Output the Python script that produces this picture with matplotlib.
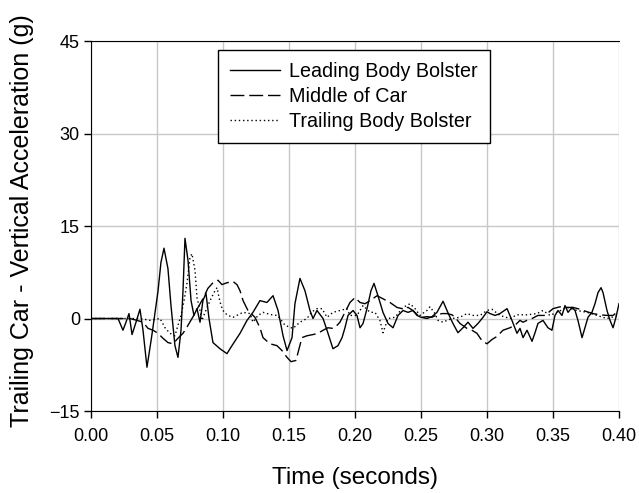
import matplotlib
matplotlib.use("Agg")
import matplotlib.pyplot as plt

plt.rcParams['font.family'] = ['Liberation Sans', 'DejaVu Sans']

# Leading body bolster (solid)
lead_t = [0.000, 0.0205, 0.0242, 0.0265, 0.0288, 0.0311, 0.0341, 0.0371, 0.0394, 0.0424,
          0.0455, 0.0477, 0.0508, 0.0530, 0.0553, 0.0583, 0.0606, 0.0636, 0.0659, 0.0682,
          0.0697, 0.0712, 0.0735, 0.0758, 0.0780, 0.0803, 0.0826, 0.0848, 0.0871, 0.0894,
          0.0924, 0.0977, 0.1030, 0.1068, 0.1129, 0.1182, 0.1227, 0.1280, 0.1333, 0.1379,
          0.1417, 0.1455, 0.1485, 0.1523, 0.1545, 0.1583, 0.1621, 0.1659, 0.1682, 0.1712,
          0.1758, 0.1788, 0.1833, 0.1871, 0.1902, 0.1924, 0.1947, 0.1985, 0.2015, 0.2038,
          0.2061, 0.2091, 0.2121, 0.2144, 0.2174, 0.2212, 0.2250, 0.2288, 0.2326, 0.2364,
          0.2402, 0.2439, 0.2470, 0.2500, 0.2545, 0.2583, 0.2621, 0.2667, 0.2697, 0.2720,
          0.2742, 0.2780, 0.2818, 0.2856, 0.2894, 0.2932, 0.2970, 0.3000, 0.3023, 0.3061,
          0.3098, 0.3152, 0.3189, 0.3227, 0.3250, 0.3273, 0.3303, 0.3341, 0.3364, 0.3386,
          0.3424, 0.3462, 0.3492, 0.3515, 0.3538, 0.3568, 0.3591, 0.3614, 0.3644, 0.3667,
          0.3689, 0.3720, 0.3742, 0.3765, 0.3795, 0.3818, 0.3841, 0.3864, 0.3879, 0.3909,
          0.3932, 0.3955, 0.3977, 0.4000]
lead_g = [0.0, 0.0, -1.9, -0.6, 0.8, -2.6, -0.6, 1.5, -1.9, -7.9,
          -3.6, -0.3, 4.5, 9.1, 11.4, 8.1, 2.1, -4.4, -6.3, -1.9,
          4.5, 13.0, 9.4, 2.9, 0.5, 1.6, -0.6, 2.9, 4.1, 0.0,
          -3.9, -4.9, -5.7, -4.4, -2.4, -0.3, 1.0, 2.9, 2.6, 3.7,
          1.3, -2.8, -5.2, -3.1, 2.4, 6.5, 4.5, 1.3, 0.0, 1.3,
          0.0, -1.9, -4.9, -4.4, -3.1, -1.5, 0.5, 1.3, 0.5, -1.5,
          -0.8, 1.6, 4.5, 5.7, 3.7, 1.0, -0.8, -1.5, 0.5, 1.3,
          1.0, 1.3, 0.5, 0.2, 0.0, 0.3, 1.0, 2.8, 1.3, 0.2,
          -0.8, -2.3, -1.5, -0.6, -1.6, -0.8, 0.2, 1.1, 0.8, 0.5,
          0.8, 1.6, -0.3, -2.4, -1.6, -3.1, -1.9, -3.7, -2.3, -0.8,
          -0.3, -1.5, -1.9, 0.5, 1.3, 0.5, 2.1, 1.0, 1.8, 1.3,
          -0.3, -3.1, -1.5, 0.2, 1.0, 2.4, 4.2, 5.0, 4.2, 1.3,
          -0.3, -1.5, 0.2, 2.4]

# Middle of car (dashed)
mid_t = [0.000, 0.0295, 0.0348, 0.0394, 0.0432, 0.0470, 0.0508, 0.0545, 0.0583, 0.0621,
         0.0659, 0.0697, 0.0735, 0.0773, 0.0811, 0.0848, 0.0886, 0.0924, 0.0962, 0.0992,
         0.1030, 0.1076, 0.1106, 0.1129, 0.1152, 0.1189, 0.1242, 0.1280, 0.1303, 0.1356,
         0.1409, 0.1447, 0.1485, 0.1515, 0.1553, 0.1598, 0.1636, 0.1682, 0.1720, 0.1758,
         0.1795, 0.1833, 0.1864, 0.1886, 0.1924, 0.1962, 0.2000, 0.2038, 0.2076, 0.2114,
         0.2167, 0.2212, 0.2265, 0.2318, 0.2356, 0.2402, 0.2439, 0.2477, 0.2508, 0.2545,
         0.2583, 0.2621, 0.2659, 0.2697, 0.2735, 0.2758, 0.2795, 0.2848, 0.2886, 0.2924,
         0.2962, 0.3000, 0.3038, 0.3076, 0.3121, 0.3174, 0.3212, 0.3250, 0.3273, 0.3303,
         0.3341, 0.3386, 0.3439, 0.3500, 0.3553, 0.3606, 0.3652, 0.3705, 0.3758, 0.3803,
         0.3856, 0.3909, 0.3955, 0.4000]
mid_g = [0.0, 0.0, -0.3, -0.6, -1.6, -1.9, -2.4, -3.2, -3.9, -4.1,
         -3.2, -2.4, -1.1, 0.3, 1.8, 3.2, 4.9, 5.8, 6.2, 5.5,
         5.8, 6.0, 5.5, 4.5, 2.9, 1.3, 0.2, -1.5, -3.1, -4.1,
         -4.4, -5.2, -6.3, -7.0, -6.8, -3.1, -2.8, -2.6, -2.4, -1.9,
         -1.5, -1.6, -1.1, -0.6, 1.0, 2.6, 3.4, 2.6, 2.4, 2.9,
         3.7, 3.2, 2.6, 1.8, 1.6, 1.8, 1.3, 0.5, 0.2, 0.3,
         0.2, 0.6, 0.8, 0.8, 0.6, 0.2, -0.8, -1.6, -1.9, -2.4,
         -3.6, -4.1, -3.4, -2.9, -1.9, -1.5, -1.1, -0.3, -0.6, -0.3,
         0.0, 0.5, 0.5, 1.6, 1.9, 1.8, 1.8, 1.5, 1.1, 0.8,
         0.6, 0.5, 0.5, 1.3]

# Trailing body bolster (dotted)
trail_t = [0.000, 0.0371, 0.0447, 0.0523, 0.0561, 0.0598, 0.0636, 0.0659, 0.0682, 0.0705,
           0.0727, 0.0750, 0.0765, 0.0788, 0.0803, 0.0826, 0.0841, 0.0864, 0.0902, 0.0939,
           0.0955, 0.0970, 0.0985, 0.1008, 0.1038, 0.1076, 0.1114, 0.1152, 0.1205, 0.1227,
           0.1265, 0.1303, 0.1333, 0.1371, 0.1409, 0.1432, 0.1470, 0.1530, 0.1583, 0.1636,
           0.1674, 0.1712, 0.1750, 0.1788, 0.1833, 0.1886, 0.1939, 0.1962, 0.2015, 0.2061,
           0.2114, 0.2152, 0.2189, 0.2212, 0.2250, 0.2303, 0.2364, 0.2417, 0.2455, 0.2492,
           0.2545, 0.2568, 0.2606, 0.2629, 0.2667, 0.2697, 0.2735, 0.2795, 0.2848, 0.2894,
           0.2947, 0.3000, 0.3038, 0.3098, 0.3174, 0.3227, 0.3303, 0.3379, 0.3424, 0.3477,
           0.3530, 0.3606, 0.3682, 0.3758, 0.3833, 0.3909, 0.4000]
trail_g = [0.0, 0.0, -0.3, 0.0, -1.5, -2.4, -2.8, -1.1, 0.5, 2.9,
           5.7, 9.9, 10.5, 7.8, 3.4, 1.3, -0.3, 1.0, 2.9, 4.5,
           5.0, 3.4, 2.1, 1.0, 0.5, 0.2, 0.6, 1.0, 0.8, -0.6,
           0.5, 1.0, 0.8, 0.6, 0.5, 0.0, -1.1, -1.6, -0.6, 0.0,
           1.1, 1.6, 1.6, 0.2, 1.0, 1.3, 1.6, 0.5, 0.5, 2.1,
           1.0, 1.0, -0.3, -2.3, 0.0, 0.2, 1.8, 2.4, 1.6, 0.5,
           1.3, 1.9, 0.8, -0.3, -0.6, -0.3, 0.0, 0.2, 0.8, 0.5,
           0.5, 1.3, 1.5, 0.5, 0.0, 0.6, 0.6, 0.8, 1.3, 0.5,
           1.0, 1.8, 1.3, 1.0, 0.5, 0.0, 0.5]

xticks = [0.00, 0.05, 0.10, 0.15, 0.20, 0.25, 0.30, 0.35, 0.40]
yticks = [-15, 0, 15, 30, 45]

fig = plt.figure(figsize=(6.39, 4.93), dpi=100)
ax = fig.add_axes([0.1424, 0.1663, 0.8263, 0.7505])

ax.plot(lead_t, lead_g, color='black', lw=1.0, label='Leading Body Bolster')
ax.plot(mid_t, mid_g, color='black', lw=1.0, dashes=(10, 3.5), label='Middle of Car')
ax.plot(trail_t, trail_g, color='black', lw=1.0, dashes=(1, 2), label='Trailing Body Bolster')

ax.set_xlim(0, 0.4)
ax.set_ylim(-15, 45)
ax.set_xticks(xticks)
ax.set_yticks(yticks)
ax.set_xticklabels(['%.2f' % v for v in xticks])
ax.grid(True, color='#c8c8c8', lw=1.0)
ax.set_axisbelow(True)
ax.spines['right'].set_visible(False)
ax.tick_params(direction='out', length=5, width=1, labelsize=13, pad=3)
ax.tick_params(axis='x', pad=7)

ax.set_xlabel('Time (seconds)', fontsize=17.5, labelpad=16)
ax.set_ylabel('Trailing Car - Vertical Acceleration (g)', fontsize=18)
ax.yaxis.set_label_coords(-0.108, 0.515)

leg = ax.legend(loc='upper left', bbox_to_anchor=(0.2405, 0.9757), borderaxespad=0,
                fontsize=14.2, handlelength=2.5, handletextpad=0.5, labelspacing=0.3,
                borderpad=0.62, fancybox=False, framealpha=1, edgecolor='black')
leg.get_frame().set_linewidth(1.0)

fig.savefig('out.png', dpi=100)
